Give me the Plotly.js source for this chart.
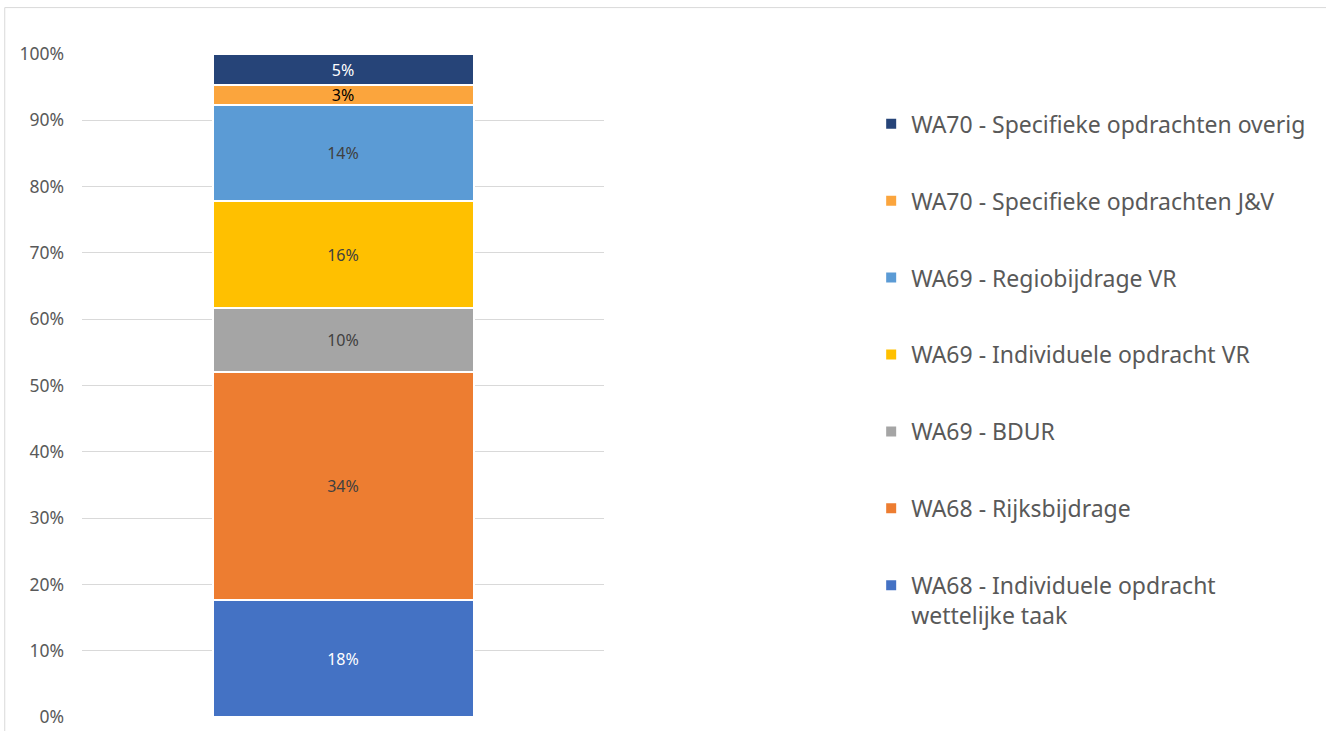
<!DOCTYPE html>
<html>
<head>
<meta charset="utf-8">
<script src="https://cdn.plot.ly/plotly-3.0.1.min.js"></script>
<style>html,body{margin:0;padding:0;background:#fff;}#chart{width:1326px;height:731px;}</style>
</head>
<body>
<div id="chart"></div>
<script>
const category = ['Totaal'];
const seriesNames = [
  'WA68 - Individuele opdracht<br>wettelijke taak',
  'WA68 - Rijksbijdrage',
  'WA69 - BDUR',
  'WA69 - Individuele opdracht VR',
  'WA69 - Regiobijdrage VR',
  'WA70 - Specifieke opdrachten J&V',
  'WA70 - Specifieke opdrachten overig'
];
const seriesValues = [17.6, 34.4, 9.7, 16.1, 14.5, 3.0, 4.7];
const seriesLabels = ['18%', '34%', '10%', '16%', '14%', '3%', '5%'];
const seriesColors = ['#4472C4', '#ED7D31', '#A5A5A5', '#FFC000', '#5B9BD5', '#FBA53D', '#264478'];
const labelColors = ['#FFFFFF', '#404040', '#404040', '#404040', '#404040', '#000000', '#FFFFFF'];
const yTicks = [0, 10, 20, 30, 40, 50, 60, 70, 80, 90, 100];

const FONT = 'Noto Sans, Open Sans, sans-serif';
const traces = seriesNames.map((name, i) => ({
  type: 'bar',
  x: category,
  y: [seriesValues[i]],
  name: name,
  legendgroup: 'g' + i,
  legendrank: 100 - i,
  marker: {color: seriesColors[i], line: {color: '#FFFFFF', width: 2}},
  text: [seriesLabels[i]],
  textposition: 'inside',
  insidetextanchor: 'middle',
  textangle: 0,
  constraintext: 'none',
  textfont: {family: FONT, size: 16, color: labelColors[i]},
  hoverinfo: 'none',
  width: 0.5
}));

const layout = {
  width: 1326, height: 731,
  margin: {l: 82, r: 722, t: 54, b: 14},
  paper_bgcolor: '#FFFFFF', plot_bgcolor: '#FFFFFF',
  barmode: 'stack',
  showlegend: true,
  font: {family: FONT, color: '#595959'},
  xaxis: {range: [-0.5, 0.5], showticklabels: false, showgrid: false, zeroline: false, showline: false, fixedrange: true},
  yaxis: {
    range: [0, 100], tickvals: yTicks, ticktext: yTicks.map(v => v + '%'),
    tickfont: {family: FONT, size: 17.5, color: '#595959'},
    showgrid: true, gridcolor: '#D9D9D9', gridwidth: 1,
    zeroline: false, showline: false, ticks: '', ticklen: 0, automargin: false,
    ticklabelstandoff: 17
  },
  legend: {
    xref: 'container', yref: 'container',
    x: 0.657, y: 0.86, xanchor: 'left', yanchor: 'top',
    traceorder: 'grouped', tracegroupgap: 44,
    font: {family: FONT, size: 23, color: '#595959'},
    valign: 'top', itemwidth: 30, bgcolor: 'rgba(0,0,0,0)',
    maxheight: 1
  },
  shapes: [
    {type: 'line', xref: 'paper', yref: 'paper', x0: -0.148, x1: -0.148, y0: -0.1, y1: 1.07, line: {color: '#D9D9D9', width: 1}},
    {type: 'line', xref: 'paper', yref: 'paper', x0: -0.148, x1: 2.5, y0: 1.07, y1: 1.07, line: {color: '#D9D9D9', width: 1}}
  ]
};

Plotly.newPlot('chart', traces, layout, {displayModeBar: false, staticPlot: true});
</script>
</body>
</html>
